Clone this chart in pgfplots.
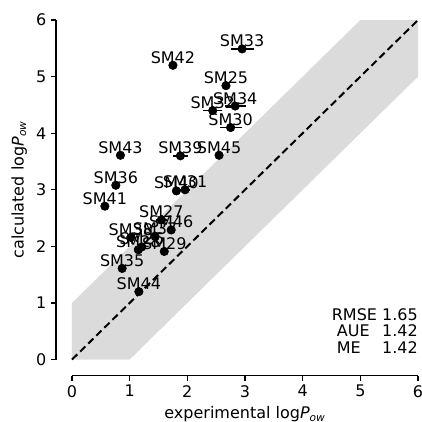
\documentclass[border=0pt]{standalone}
\usepackage{pgfplots}
\pgfplotsset{compat=1.18}
\usepackage{fontspec}
\setmainfont{DejaVu Sans}
\newcommand{\fs}{\fontsize{12}{14}\selectfont}
\begin{document}
\begin{tikzpicture}
\begin{axis}[
  scale only axis, width=259.5pt, height=254.6pt,
  xmin=0, xmax=6, ymin=0, ymax=6,
  axis x line*=bottom, axis y line*=left,
  axis x line shift=12pt, axis y line shift=12pt,
  tick align=outside, major tick length=3.75pt,
  xtick={0,1,2,3,4,5,6}, ytick={0,1,2,3,4,5,6},
  every tick/.style={black, line width=0.9pt},
  axis line style={line width=0.9pt},
  tick label style={font=\fs},
  label style={font=\fs},
  /pgf/number format/assume math mode=true,
  xlabel={experimental log\textit{P}\textsubscript{\textit{ow}}},
  ylabel={calculated log\textit{P}\textsubscript{\textit{ow}}},
  clip=false,
]
\addplot[fill=black!14, draw=none] coordinates {(0,0) (0,1) (5,6) (6,6) (6,5) (1,0)} -- cycle;
\addplot[black, line width=1.5pt, dash pattern=on 5.5pt off 3pt] coordinates {(0,0) (6,6)};
\addplot[only marks, mark=*, mark size=3.2pt, black,
  error bars/.cd, x dir=both, x explicit, error mark=none,
  error bar style={line width=1.2pt, black}]
  table[x=x, y=y, x error=e] {
x y e
2.95 5.49 0.20
1.75 5.20 0
2.67 4.84 0
2.44 4.40 0.16
2.83 4.48 0.18
2.75 4.10 0.19
1.88 3.60 0.13
2.55 3.61 0
0.84 3.61 0
0.76 3.08 0
0.57 2.71 0
1.96 3.00 0.08
1.81 2.98 0
1.55 2.47 0.10
1.72 2.29 0
1.02 2.16 0
1.44 2.18 0
1.21 1.99 0
1.15 1.94 0
1.60 1.91 0
0.87 1.61 0
1.16 1.20 0
};
\addplot[only marks, mark=none, nodes near coords, point meta=explicit symbolic,
  every node near coord/.style={font=\fs, anchor=base, inner sep=0pt, yshift=1.5pt, black}]
  table[x=x, y=y, meta=l] {
x y l
2.95 5.49 SM33
1.75 5.20 SM42
2.67 4.84 SM25
2.44 4.40 SM32
2.83 4.48 SM34
2.75 4.10 SM30
1.88 3.60 SM39
2.55 3.61 SM45
0.84 3.61 SM43
0.76 3.08 SM36
0.57 2.71 SM41
1.96 3.00 SM31
1.81 2.98 SM40
1.55 2.47 SM27
1.72 2.29 SM46
1.02 2.16 SM38
1.44 2.18 SM37
1.21 1.99 SM26
1.15 1.94 SM28
1.60 1.91 SM29
0.87 1.61 SM35
1.16 1.20 SM44
};
\node[anchor=south east, inner sep=0pt, font=\fs, align=left] at (axis cs:6,0.03)
  {\renewcommand{\arraystretch}{0.8}\begin{tabular}{@{}l@{\ }l@{}}RMSE & 1.65\\ \ AUE & 1.42\\ \ ME & 1.42\end{tabular}};
\coordinate (bbl) at (axis cs:-1.2485,-1.087);
\coordinate (btr) at (axis cs:6.069,6.354);
\end{axis}
\pgfresetboundingbox
\useasboundingbox (bbl) rectangle (btr);
\end{tikzpicture}
\end{document}
